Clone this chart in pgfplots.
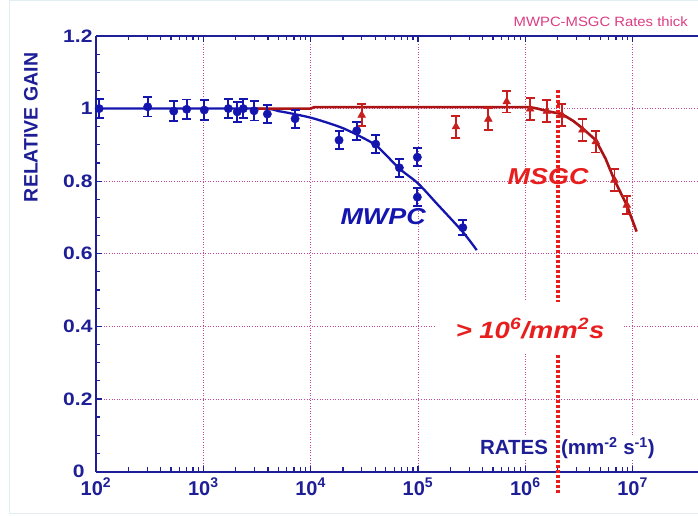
\documentclass[border=0pt]{standalone}
\usepackage{pgfplots}
\pgfplotsset{compat=1.18}
\usepackage{fontspec}
\setmainfont{Liberation Sans}
\newfontfamily\widefont{Liberation Sans}[FakeStretch=1.17]
\newfontfamily\titlefont{Liberation Sans}[FakeStretch=1.1]
\definecolor{axblue}{RGB}{30,30,150}
\definecolor{dblue}{RGB}{20,20,175}
\definecolor{dred}{RGB}{170,20,20}
\definecolor{mred}{RGB}{200,30,30}
\definecolor{bred}{RGB}{232,30,30}
\definecolor{gridc}{RGB}{200,70,150}
\definecolor{titlec}{RGB}{220,60,130}
\definecolor{framec}{RGB}{225,237,242}
\begin{document}
\begin{tikzpicture}
\begin{axis}[
  at={(0pt,0pt)}, anchor=south west,
  scale only axis, width=602pt, height=435.5pt,
  xmode=log, xmin=100, xmax=4.07e7, ymin=0, ymax=1.2,
  axis y line*=left,
  axis line style={axblue, line width=2pt},
  clip=false,
  xtick={1e2,1e3,1e4,1e5,1e6,1e7},
  xticklabels={10\textsuperscript{2},10\textsuperscript{3},10\textsuperscript{4},10\textsuperscript{5},10\textsuperscript{6},10\textsuperscript{7}},
  ytick={0,0.2,0.4,0.6,0.8,1,1.2},
  yticklabels={0\hspace*{8pt},0.2,0.4,0.6,0.8,1,1.2},
  minor y tick num=3,
  tick style={axblue, line width=1.2pt},
  major tick length=6pt, minor tick length=4.5pt,
  xticklabel style={font=\fontsize{20}{22}\selectfont\bfseries, text=axblue, yshift=-3pt},
  yticklabel style={font=\widefont\fontsize{18}{20}\selectfont\bfseries, text=axblue},
  grid=major,
  major grid style={gridc, line width=0.8pt, dash pattern=on 1pt off 1.6pt},
  ylabel={RELATIVE GAIN},
  ylabel style={at={(axis description cs:-0.108,0.79)}, anchor=center, font=\fontsize{19.5}{21}\selectfont\bfseries, text=axblue},
]
% fit curves
\addplot[dblue, line width=2.3pt, smooth, mark=none] coordinates {
 (100,1.0) (3000,1.0) (5000,0.993) (7000,0.985) (10000,0.975) (14000,0.962)
 (20000,0.946) (30000,0.921) (42000,0.895) (67000,0.835) (100000,0.794)
 (150000,0.738) (260000,0.661) (353000,0.610)};
\addplot[dred, line width=2.6pt, mark=none] coordinates {
 (3000,1.0) (10000,1.0) (10800,1.004) (1.1e6,1.004) (1.3e6,1.0) (1.59e6,0.993)
 (2.19e6,0.985) (2.8e6,0.966) (3.41e6,0.946) (4.54e6,0.913) (5.6e6,0.862)
 (6.77e6,0.803) (8.83e6,0.734) (1.09e7,0.661)};
% data points
\addplot[only marks, mred, mark=triangle*, mark size=4.5pt,
  error bars/.cd, y dir=both, y explicit,
  error bar style={line width=1.8pt, mred},
  error mark options={rotate=90, mark size=4.5pt, line width=1.8pt, mred}]
 coordinates {
 (29900,0.982) +- (0,0.03)
 (226000,0.950) +- (0,0.03)
 (453000,0.971) +- (0,0.03)
 (671000,1.019) +- (0,0.03)
 (1.11e6,0.999) +- (0,0.03)
 (1.59e6,0.993) +- (0,0.03)
 (2.19e6,0.982) +- (0,0.03)
 (3.41e6,0.941) +- (0,0.03)
 (4.54e6,0.909) +- (0,0.03)
 (6.77e6,0.803) +- (0,0.03)
 (8.83e6,0.734) +- (0,0.025)};
\addplot[only marks, dblue, mark=*, mark size=4.2pt,
  error bars/.cd, y dir=both, y explicit,
  error bar style={line width=1.8pt, dblue},
  error mark options={rotate=90, mark size=4.5pt, line width=1.8pt, dblue}]
 coordinates {
 (107,1.0) +- (0,0.027)
 (303,1.005) +- (0,0.027)
 (530,0.993) +- (0,0.027)
 (700,0.998) +- (0,0.027)
 (1020,0.996) +- (0,0.027)
 (1710,1.0) +- (0,0.027)
 (2070,0.991) +- (0,0.027)
 (2360,1.0) +- (0,0.027)
 (2970,0.994) +- (0,0.027)
 (3950,0.985) +- (0,0.025)
 (7160,0.972) +- (0,0.025)
 (18400,0.913) +- (0,0.025)
 (26900,0.939) +- (0,0.025)
 (40400,0.902) +- (0,0.025)
 (67100,0.837) +- (0,0.025)
 (98700,0.866) +- (0,0.025)
 (98700,0.756) +- (0,0.025)
 (262000,0.672) +- (0,0.02)};
% labels
\node[font=\widefont\fontsize{23}{25}\selectfont\bfseries\itshape, text=dblue] at (rel axis cs:0.477,0.585) {MWPC};
\node[font=\widefont\fontsize{23}{25}\selectfont\bfseries\itshape, text=bred] at (rel axis cs:0.751,0.677) {MSGC};
\node[anchor=west, fill=white, inner sep=1pt, font=\fontsize{20.5}{22}\selectfont\bfseries, text=axblue] at (rel axis cs:0.636,0.054) {RATES\hspace{13pt}(mm\textsuperscript{-2} s\textsuperscript{-1})};
\draw[bred, line width=4pt, dash pattern=on 3pt off 2pt] (axis cs:2e6,-0.06) -- (axis cs:2e6,1.05);
\node[fill=white, minimum width=187pt, minimum height=52pt, font=\widefont\fontsize{23.5}{25}\selectfont\bfseries\itshape, text=bred] at (rel axis cs:0.721,0.329) {> 10\textsuperscript{6}/mm\textsuperscript{2}s};
\node[anchor=base west, text=titlec, font=\titlefont\fontsize{13.5}{16}\selectfont] at (rel axis cs:0.688,1.021) {MWPC-MSGC Rates thick};
\end{axis}
\draw[framec, line width=1pt] (-86pt,-41.5pt) rectangle (620pt,470.5pt);
\pgfresetboundingbox
\useasboundingbox (-96pt,-43.5pt) rectangle (602pt,471.5pt);
\end{tikzpicture}
\end{document}
